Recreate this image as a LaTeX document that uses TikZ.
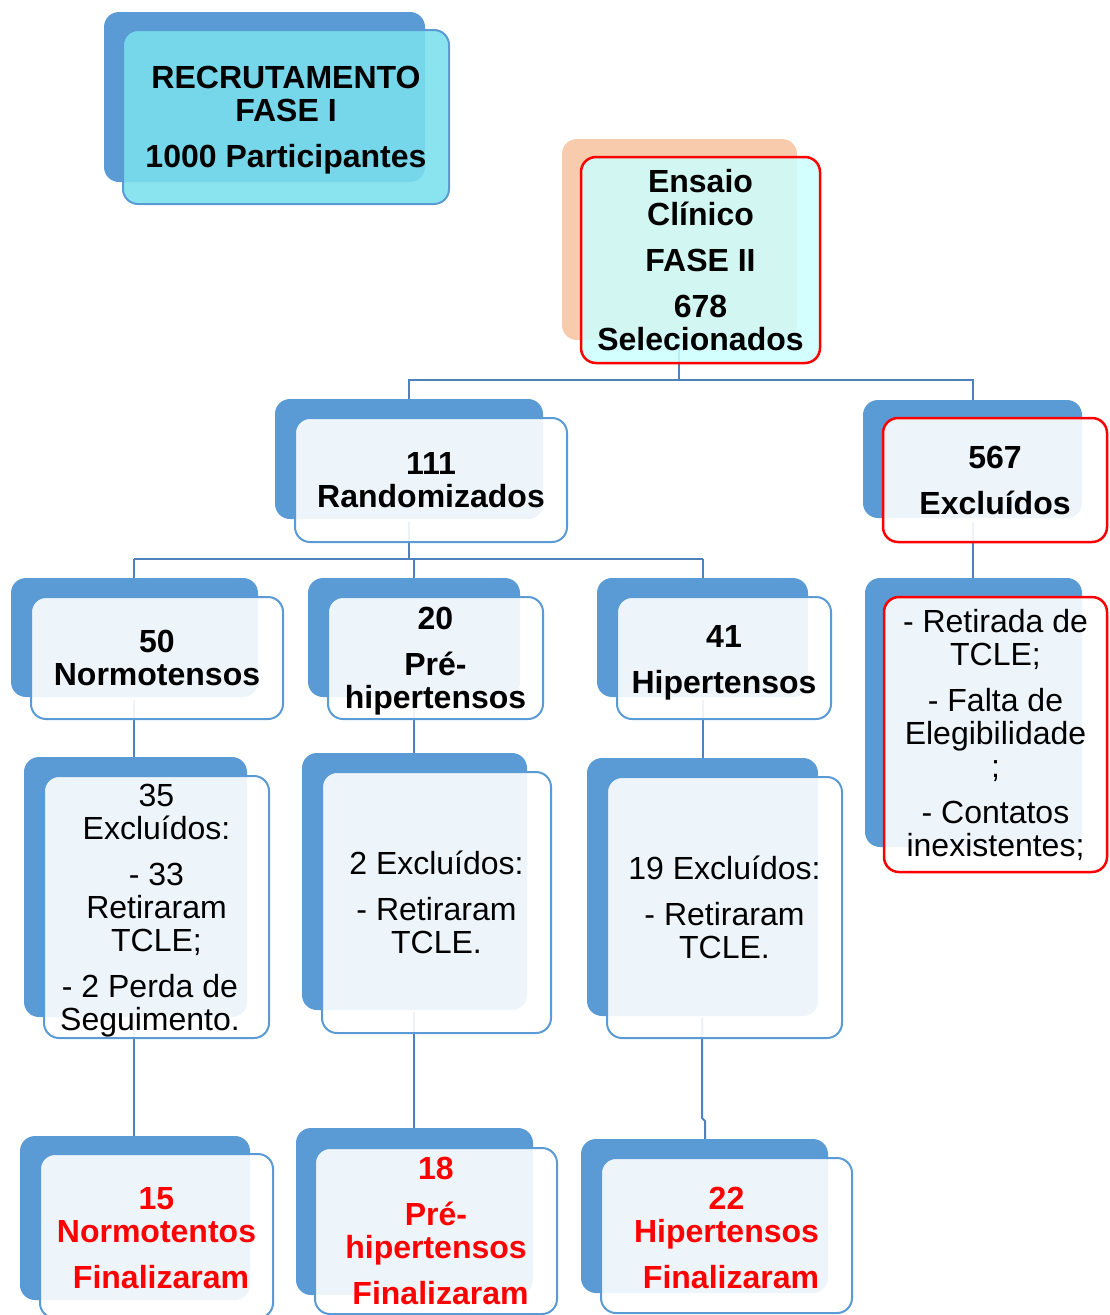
\documentclass[tikz,border=0pt]{standalone}
\usepackage{fontspec}
\setmainfont{Liberation Sans}
\definecolor{bk}{HTML}{5B9BD5}
\definecolor{ln}{HTML}{4F81BD}
\definecolor{peach}{HTML}{F8CBAD}
\definecolor{cyanfr}{RGB}{122,224,238}
\definecolor{aqua}{RGB}{204,255,255}
\definecolor{redtx}{HTML}{FF0000}
\tikzset{
  backbox/.style={fill=bk, draw=none, rounded corners=15pt, inner sep=0pt},
  frontbox/.style={fill=white, fill opacity=0.9, text opacity=1, draw=bk, line width=2pt,
    rounded corners=15pt, inner sep=0pt, align=center, font=\fontsize{32}{33}\selectfont},
  redframe/.style={draw=redtx, line width=2.5pt},
  conn/.style={draw=ln, line width=2pt},
}
\newcommand\topstrut[1]{\rule{0pt}{#1pt}}
\begin{document}
\begin{tikzpicture}[x=1pt,y=-1pt]
\useasboundingbox (0,0) rectangle (1109,1315);

% --- junction coordinates ---
\coordinate (j1) at (679,380);
\coordinate (j1l) at (409,380);
\coordinate (j1r) at (973,380);
\coordinate (j2) at (409,559);
\coordinate (j2l) at (134,559);
\coordinate (j2m) at (414,559);
\coordinate (j2r) at (703,559);
\coordinate (k1) at (702,1118);
\coordinate (k2) at (705,1121);

% --- back boxes ---
\node[backbox, minimum width=321pt, minimum height=170pt] (b1) at (264.5,97) {};
\node[fill=peach, rounded corners=15pt, inner sep=0pt, minimum width=235pt, minimum height=201pt] (b2) at (679.5,239.5) {};
\node[backbox, minimum width=268pt, minimum height=120pt] (b3) at (409,459) {};
\node[backbox, minimum width=219pt, minimum height=118pt] (b4) at (972.5,459) {};
\node[backbox, minimum width=217pt, minimum height=269pt] (b5) at (973.5,712.5) {};
\node[backbox, minimum width=247pt, minimum height=119pt] (b6) at (134.5,637.5) {};
\node[backbox, minimum width=212pt, minimum height=119pt] (b7) at (414,637.5) {};
\node[backbox, minimum width=211pt, minimum height=119pt] (b8) at (702.5,637.5) {};
\node[backbox, minimum width=223pt, minimum height=260pt] (b9) at (135.5,887) {};
\node[backbox, minimum width=225pt, minimum height=257pt] (b10) at (414.5,881.5) {};
\node[backbox, minimum width=231pt, minimum height=258pt] (b11) at (702.5,887) {};
\node[backbox, minimum width=230pt, minimum height=164pt] (b12) at (135,1218) {};
\node[backbox, minimum width=237pt, minimum height=167pt] (b13) at (414.5,1211.5) {};
\node[backbox, minimum width=247pt, minimum height=154pt] (b14) at (704.5,1216) {};

% connectors drawn before front boxes
\path[conn] (679,345) -- (j1) -- (j1l) -- (b3.north -| j1l);
\path[conn] (j1) -- (j1r) -- (b4.north -| j1r);
\path[conn] (409,522) -- (j2) (j2l) -- (j2r);
\path[conn] (j2l) -- (b6.north -| j2l);
\path[conn] (j2m) -- (b7.north -| j2m);
\path[conn] (j2r) -- (b8.north -| j2r);
\path[conn] (973,522) -- (b5.north -| 973,0);
\path[conn] (134,700) -- (b9.north -| 134,0);
\path[conn] (414,700) -- (b10.north -| 414,0);
\path[conn] (703,700) -- (b11.north -| 703,0);
\path[conn] (134,1018) -- (b12.north -| 134,0);
\path[conn] (414,1012) -- (b13.north -| 414,0);
\path[conn] (702,1018) -- (k1) -- (k2) -- (b14.north -| k2);

% --- front boxes ---
\node[frontbox, fill=cyanfr, fill opacity=0.88, minimum width=326pt, minimum height=174pt] (f1) at (286,117)
  {\topstrut{29}\bfseries RECRUTAMENTO\\ \bfseries FASE I\\[13pt] \bfseries 1000 Participantes};
\node[frontbox, redframe, fill=aqua, fill opacity=0.85, minimum width=239pt, minimum height=206pt] (f2) at (700.5,260)
  {\bfseries Ensaio\\ \bfseries Clínico\\[13pt] \bfseries FASE II\\[13pt] \bfseries 678\\ \bfseries Selecionados};
\node[frontbox, minimum width=272pt, minimum height=124pt] (f3) at (431,480)
  {\bfseries 111\\ \bfseries Randomizados};
\node[frontbox, redframe, minimum width=224pt, minimum height=124pt] (f4) at (995,480)
  {\bfseries 567\\[13pt] \bfseries Excluídos};
\node[frontbox, redframe, minimum width=223pt, minimum height=275pt] (f5) at (995.5,734.5)
  {- Retirada de\\ TCLE;\\[13pt] - Falta de\\ Elegibilidade\\ ;\\[13pt] - Contatos\\ inexistentes;};
\node[frontbox, minimum width=252pt, minimum height=122pt] (f6) at (157,658)
  {\bfseries 50\\ \bfseries Normotensos};
\node[frontbox, minimum width=215pt, minimum height=122pt] (f7) at (435.5,658)
  {\topstrut{29}\bfseries 20\\[13pt] \bfseries Pré-\\ \bfseries hipertensos};
\node[frontbox, minimum width=214pt, minimum height=122pt] (f8) at (724,658)
  {\topstrut{31}\bfseries 41\\[13pt] \bfseries Hipertensos};
\node[frontbox, minimum width=225pt, minimum height=262pt] (f9) at (156.5,907)
  {\topstrut{29}35\\ Excluídos:\\[13pt] - 33\\ Retiraram\\ TCLE;\\[13pt] \hspace*{-13pt}- 2 Perda de\\ \hspace*{-13pt}Seguimento.};
\node[frontbox, minimum width=229pt, minimum height=261pt] (f10) at (436.5,902.5)
  {2 Excluídos:\\[13pt] - Retiraram\\ TCLE.};
\node[frontbox, minimum width=235pt, minimum height=261pt] (f11) at (724.5,907.5)
  {19 Excluídos:\\[13pt] - Retiraram\\ TCLE.};
\node[frontbox, text=redtx, minimum width=233pt, minimum height=164pt] (f12) at (156.5,1236)
  {\topstrut{27}\bfseries 15\\ \bfseries Normotentos\\[13pt] \hspace*{9pt}\bfseries Finalizaram};
\node[frontbox, text=redtx, minimum width=242pt, minimum height=166pt] (f13) at (436,1231)
  {\bfseries 18\\[13pt] \bfseries Pré-\\ \bfseries hipertensos\\[13pt] \hspace*{9pt}\bfseries Finalizaram};
\node[frontbox, text=redtx, minimum width=251pt, minimum height=155pt] (f14) at (726.5,1235.5)
  {\topstrut{27}\bfseries 22\\ \bfseries Hipertensos\\[13pt] \hspace*{9pt}\bfseries Finalizaram};
\end{tikzpicture}
\end{document}
